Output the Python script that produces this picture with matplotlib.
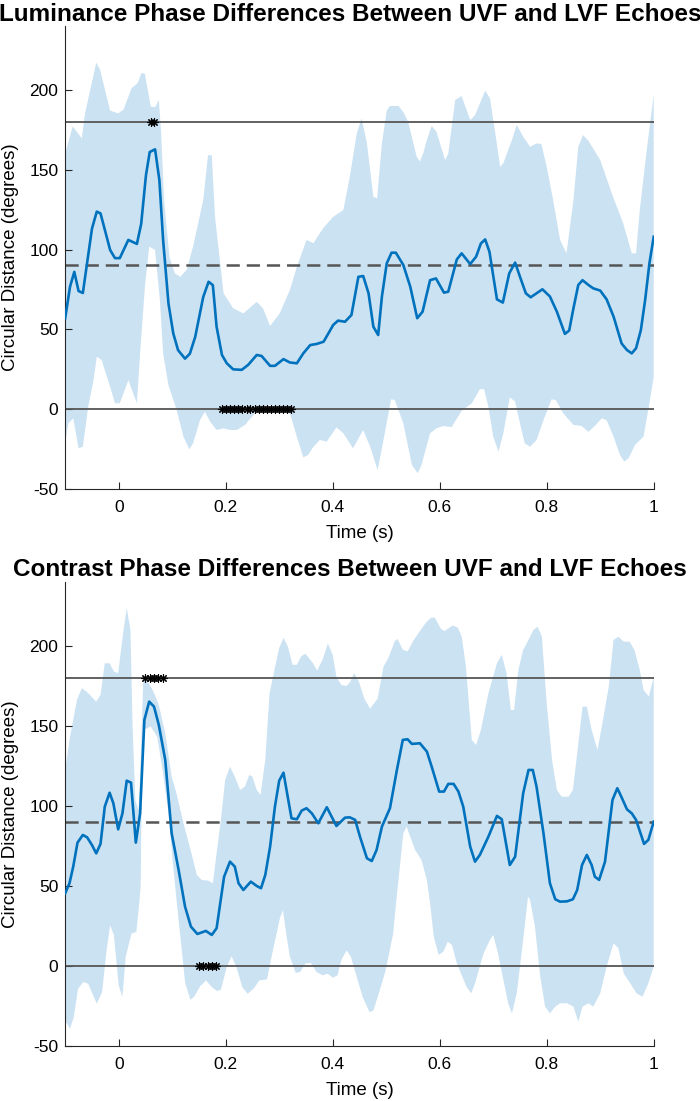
import numpy as np
import matplotlib
matplotlib.use("Agg")
import matplotlib.pyplot as plt

plt.rcParams['font.family'] = ['Liberation Sans', 'DejaVu Sans']
plt.rcParams['axes.unicode_minus'] = False
plt.rcParams['lines.scale_dashes'] = False

# ---------------- Luminance (top panel) ----------------
lum_t = [-0.1, -0.091, -0.083, -0.075, -0.067, -0.05, -0.041, -0.034, -0.016, -0.007,
         0.002, 0.018, 0.034, 0.042, 0.051, 0.058, 0.068, 0.076, 0.083, 0.093,
         0.102, 0.111, 0.124, 0.133, 0.143, 0.158, 0.168, 0.176, 0.183, 0.193,
         0.202, 0.214, 0.23, 0.242, 0.258, 0.267, 0.283, 0.292, 0.308, 0.32,
         0.333, 0.345, 0.358, 0.37, 0.383, 0.401, 0.41, 0.423, 0.435, 0.448,
         0.457, 0.467, 0.476, 0.485, 0.492, 0.501, 0.510, 0.518, 0.532, 0.545,
         0.558, 0.568, 0.582, 0.593, 0.608, 0.616, 0.632, 0.641, 0.657, 0.668,
         0.677, 0.685, 0.693, 0.707, 0.718, 0.730, 0.741, 0.750, 0.761, 0.770,
         0.781, 0.792, 0.806, 0.819, 0.834, 0.842, 0.850, 0.859, 0.867, 0.878,
         0.887, 0.900, 0.912, 0.925, 0.940, 0.950, 0.959, 0.967, 0.976, 0.984,
         0.992, 1.0]
lum_mean = [57, 76.7, 86, 74, 72.8, 113, 123.7, 122.6, 99.7, 94.6,
            94.6, 106, 103.5, 116, 146.6, 161, 162.7, 143.5, 106, 66.3,
            47.5, 37, 31.7, 34.8, 45.3, 70.3, 79.8, 77.7, 51.6, 34,
            28.8, 25, 24.7, 27.8, 34, 33.4, 27.2, 27.2, 31.4, 29.3,
            28.8, 35, 40.2, 40.9, 42.3, 52.8, 55.5, 54.8, 59, 82.9,
            83.4, 72.6, 51.7, 46.5, 70.6, 91.3, 98, 98, 90.3, 76.7,
            57, 61.1, 80.8, 81.9, 73, 73.6, 93.8, 97.6, 90.9, 95.5,
            103.8, 106.3, 98.6, 68.8, 66.8, 85.1, 91.8, 83, 72.6, 70.1,
            72.6, 75.1, 70.6, 61.1, 47.2, 49.3, 63.2, 77.8, 80.8, 77.8,
            75.7, 74.3, 68.8, 58, 41.2, 37.1, 35, 38.2, 49.6, 68.4,
            91.3, 108]

lum_up_t = [-0.1, -0.086, -0.069, -0.063, -0.042, -0.035, -0.016, -0.001, 0.009, 0.024,
            0.035, 0.043, 0.049, 0.060, 0.068, 0.075, 0.079, 0.085, 0.095, 0.105,
            0.115, 0.127, 0.139, 0.158, 0.167, 0.174, 0.180, 0.196, 0.214, 0.233,
            0.258, 0.270, 0.283, 0.301, 0.320, 0.333, 0.351, 0.364, 0.382, 0.401,
            0.420, 0.432, 0.445, 0.454, 0.464, 0.476, 0.483, 0.492, 0.501, 0.507,
            0.523, 0.532, 0.541, 0.557, 0.563, 0.569, 0.576, 0.585, 0.594, 0.610,
            0.616, 0.629, 0.641, 0.657, 0.666, 0.685, 0.694, 0.703, 0.713, 0.719,
            0.735, 0.744, 0.756, 0.769, 0.781, 0.790, 0.800, 0.812, 0.825, 0.837,
            0.850, 0.859, 0.868, 0.878, 0.900, 0.924, 0.943, 0.959, 0.967, 0.974,
            0.987, 1.0]
lum_up = [160, 177, 169.6, 185, 216.9, 212.7, 186.9, 185.2, 187.5, 200.9,
          204, 210.6, 209.8, 189.4, 189, 193.6, 175, 130, 95, 85.1,
          82.9, 87.2, 101.8, 131, 159, 159, 120.5, 72.6, 63.2, 60,
          67.3, 63, 52.1, 60, 74.7, 89.2, 106, 104, 113.3, 120.5,
          124.7, 145.6, 172.7, 182, 166.4, 133, 132, 166.4, 187, 189.8,
          189.8, 186, 180, 158, 155, 160, 168.5, 177.3, 173.7, 156,
          160, 193.6, 196, 181, 184, 199.4, 194.6, 174.8, 151.8, 154,
          168.5, 178, 170.6, 164.3, 166.4, 166, 151.8, 131, 106, 97.6,
          131, 164.3, 171.6, 168, 156, 133, 116.4, 97.6, 97.6, 124.7,
          162.3, 197]

lum_lo_t = [-0.1, -0.094, -0.085, -0.075, -0.067, -0.057, -0.047, -0.041, -0.032, -0.016,
            -0.007, 0.002, 0.009, 0.018, 0.034, 0.040, 0.049, 0.057, 0.068, 0.077,
            0.083, 0.093, 0.108, 0.121, 0.132, 0.139, 0.152, 0.161, 0.171, 0.183,
            0.196, 0.208, 0.221, 0.236, 0.252, 0.264, 0.283, 0.301, 0.320, 0.333,
            0.345, 0.354, 0.364, 0.376, 0.389, 0.407, 0.420, 0.438, 0.457, 0.470,
            0.484, 0.495, 0.509, 0.516, 0.532, 0.548, 0.559, 0.566, 0.582, 0.594,
            0.607, 0.622, 0.641, 0.660, 0.675, 0.683, 0.691, 0.700, 0.710, 0.719,
            0.731, 0.741, 0.750, 0.759, 0.769, 0.781, 0.794, 0.809, 0.817, 0.831,
            0.850, 0.865, 0.878, 0.890, 0.903, 0.912, 0.925, 0.937, 0.945, 0.953,
            0.965, 0.981, 0.990, 1.0]
lum_lo = [-20.3, -8.8, -5.6, -24.4, -23.4, 1.6, 18.3, 32.9, 30.9, 14.1,
          3.8, 3.8, 10, 18.3, 3.8, 35, 76.7, 101.8, 99.7, 68.4,
          35, 15, 0, -17.1, -25, -21.3, -6.8, -1.5, -7.7, -12.9,
          -11.9, -12.9, -12.9, -9.8, -3.5, 1.7, 2.7, 1.7, -2.5, -17.1,
          -30.1, -28.6, -23.4, -19.2, -20.2, -11.3, -15, -24.4, -12.9, -23.4,
          -38, -19.2, 6.2, 5.9, -8.8, -34.8, -40, -34.8, -15, -11.9,
          -10.4, -11.2, -1, 3.8, 12.6, 12.6, 1.7, -17.1, -26.5, -15,
          7.5, 4.8, -8.8, -21.3, -23.4, -19.2, -6.8, 6.2, 5.9, -2.5,
          -9.8, -10.4, -14.1, -10.4, -5.6, -6.8, -17.1, -28.6, -32.7, -30.6,
          -22.3, -17.1, 0, 20]

lum_sig180 = [0.060, 0.066]
lum_sig0 = [0.193, 0.201, 0.208, 0.216, 0.223, 0.231, 0.239, 0.246, 0.254,
            0.262, 0.269, 0.277, 0.284, 0.292, 0.300, 0.307, 0.315, 0.322]

# ---------------- Contrast (bottom panel) ----------------
con_t = [-0.1, -0.092, -0.085, -0.077, -0.067, -0.059, -0.050, -0.042, -0.034, -0.026,
         -0.017, -0.010, -0.001, 0.007, 0.015, 0.023, 0.032, 0.040, 0.048, 0.057,
         0.066, 0.075, 0.087, 0.099, 0.112, 0.124, 0.135, 0.147, 0.163, 0.174,
         0.183, 0.197, 0.208, 0.217, 0.224, 0.233, 0.247, 0.258, 0.266, 0.274,
         0.283, 0.292, 0.300, 0.308, 0.323, 0.333, 0.342, 0.351, 0.361, 0.373,
         0.389, 0.398, 0.407, 0.423, 0.432, 0.442, 0.451, 0.464, 0.473, 0.482,
         0.492, 0.507, 0.520, 0.531, 0.540, 0.548, 0.563, 0.576, 0.585, 0.599,
         0.608, 0.616, 0.626, 0.635, 0.644, 0.657, 0.666, 0.675, 0.691, 0.707,
         0.716, 0.731, 0.741, 0.756, 0.766, 0.774, 0.781, 0.794, 0.806, 0.816,
         0.825, 0.838, 0.849, 0.857, 0.866, 0.875, 0.884, 0.890, 0.898, 0.909,
         0.923, 0.932, 0.940, 0.950, 0.959, 0.967, 0.982, 0.990, 1.0]
con_mean = [45.6, 51.9, 62.3, 77.3, 82.1, 80.6, 75.8, 70.6, 76.5, 99.8,
            108.5, 101.9, 85.6, 95.6, 116, 114.8, 77.3, 95.6, 154, 165.4,
            162.3, 150.8, 129, 83.1, 60.2, 37.3, 24.8, 20.2, 22.1, 19.6,
            23.8, 56, 65.4, 62.3, 51.9, 47.7, 52.9, 50.2, 48.8, 57.1,
            74.8, 99.8, 116, 121, 92.5, 91.9, 97.3, 98.8, 95.6, 89.4,
            99.4, 93.5, 87.7, 92.9, 93.1, 91.5, 81, 67.5, 65.8, 72.7,
            87.3, 98.8, 122.7, 141.5, 141.9, 139, 139.4, 134.2, 124.8, 109.2,
            109.2, 114, 114, 109.2, 99.8, 74.8, 65.4, 69.6, 81, 94,
            91.9, 63.3, 68.5, 108.1, 122.7, 122.7, 112.3, 83.1, 51.9, 41.9,
            40.4, 40.6, 41.9, 47.7, 63.3, 69.6, 63.3, 56, 54, 65.4,
            104, 111.3, 105.6, 98.1, 95.6, 91.5, 76.5, 79, 90.4]

con_up_t = [-0.1, -0.091, -0.078, -0.069, -0.060, -0.042, -0.034, -0.026, -0.017, -0.009,
            -0.001, 0.009, 0.015, 0.022, 0.026, 0.031, 0.037, 0.040, 0.046, 0.054,
            0.065, 0.075, 0.087, 0.099, 0.108, 0.121, 0.136, 0.146, 0.155, 0.168,
            0.176, 0.183, 0.191, 0.199, 0.208, 0.217, 0.227, 0.236, 0.244, 0.250,
            0.258, 0.265, 0.274, 0.282, 0.291, 0.300, 0.308, 0.316, 0.325, 0.333,
            0.341, 0.349, 0.363, 0.371, 0.381, 0.391, 0.400, 0.407, 0.416, 0.426,
            0.433, 0.440, 0.449, 0.459, 0.470, 0.484, 0.495, 0.504, 0.516, 0.521,
            0.531, 0.540, 0.552, 0.574, 0.584, 0.591, 0.602, 0.609, 0.624, 0.634,
            0.641, 0.649, 0.655, 0.660, 0.668, 0.677, 0.691, 0.707, 0.716, 0.725,
            0.733, 0.739, 0.747, 0.756, 0.766, 0.775, 0.783, 0.791, 0.800, 0.810,
            0.819, 0.828, 0.841, 0.849, 0.857, 0.867, 0.875, 0.884, 0.895, 0.903,
            0.916, 0.925, 0.934, 0.944, 0.955, 0.964, 0.974, 0.981, 0.991, 1.0]
con_up = [122.7, 143.5, 166.5, 173.8, 171.7, 165.4, 169.6, 189.4, 189.4, 184.2,
          183.1, 210.2, 223.8, 210.2, 149.8, 104, 97.7, 118.5, 179, 178,
          171.7, 163.3, 145.6, 118.5, 108.1, 89.4, 70.6, 57.1, 54, 53.5,
          51.9, 70.6, 91.5, 116.5, 124.8, 118.5, 110.2, 112.3, 119.6, 118.5,
          110.2, 107.1, 129, 170.6, 185, 199, 205.3, 200, 188.4, 188.4,
          193.7, 195.4, 189.5, 184.8, 191.6, 201.7, 194.7, 181, 175.8, 175.2,
          177.9, 183.2, 177.9, 167.4, 161, 167.4, 187.4, 192.6, 203.2, 204.6,
          197.9, 196.8, 204.2, 214.7, 217.9, 217.9, 211, 209.5, 213, 211.6,
          206.3, 187.4, 162.3, 141.5, 138.3, 147.7, 170.6, 189.4, 194.6, 183.1,
          160.2, 160.2, 185.2, 197.7, 204, 210.2, 212.3, 206, 164.4, 129,
          110.2, 106, 106, 110.2, 133.1, 162.3, 162.3, 147.7, 135.2, 149.8,
          174.8, 204, 206, 202.9, 202.9, 197.7, 185.2, 172.7, 168.5, 181]

con_lo_t = [-0.1, -0.091, -0.084, -0.076, -0.066, -0.057, -0.041, -0.031, -0.023, -0.016,
            -0.009, 0.0, 0.007, 0.013, 0.024, 0.033, 0.039, 0.041, 0.043, 0.046,
            0.060, 0.072, 0.083, 0.093, 0.102, 0.110, 0.118, 0.124, 0.134, 0.141,
            0.152, 0.163, 0.174, 0.184, 0.191, 0.202, 0.211, 0.220, 0.231, 0.241,
            0.252, 0.263, 0.277, 0.291, 0.302, 0.307, 0.313, 0.320, 0.331, 0.339,
            0.349, 0.359, 0.370, 0.381, 0.391, 0.400, 0.409, 0.416, 0.426, 0.434,
            0.445, 0.456, 0.469, 0.476, 0.486, 0.499, 0.513, 0.519, 0.532, 0.538,
            0.545, 0.554, 0.566, 0.576, 0.582, 0.589, 0.598, 0.607, 0.615, 0.623,
            0.632, 0.641, 0.650, 0.659, 0.666, 0.682, 0.694, 0.700, 0.709, 0.719,
            0.728, 0.735, 0.744, 0.756, 0.765, 0.769, 0.778, 0.788, 0.797, 0.806,
            0.816, 0.825, 0.838, 0.850, 0.859, 0.867, 0.878, 0.887, 0.900, 0.912,
            0.925, 0.934, 0.944, 0.956, 0.968, 0.979, 0.990, 1.0]
con_lo = [-33.9, -39, -31.8, -14, -9.8, -10.9, -23.4, -16.1, 9, 25.7,
          19.5, -11.9, -19.2, 5.9, 20.5, 21.5, 41.4, 49.8, 108, 147.7,
          149.8, 143.5, 120.6, 95.6, 62, 35, 10, -10, -20.9, -19,
          -12.6, -8.8, -13, -15.5, -14.6, -0.4, 6.3, -0.4, -13, -17.2,
          -14, -8.8, -8.2, 14.2, 31, 35, 20.5, 5.9, -4.2, -3.6,
          1.7, 2.1, -3.6, -5.6, -4.6, -7.1, -5.6, 3.8, 10, 5.9,
          -6.7, -19.2, -28.7, -27.6, -17.2, -2.5, 20.5, 41.4, 83, 87.3,
          81, 72.7, 66.5, 54, 39.4, 18.5, 7.1, 9.2, 15.4, 13.3,
          1.9, -5.4, -12.7, -16.9, -10.6, 8.1, 16.5, 19.6, 8.1, -8.5,
          -23.1, -29.4, -16.9, 16.5, 43.5, 41.5, 24.8, -6.5, -25.2, -29.4,
          -25.2, -23.1, -23.1, -25.2, -34.6, -25.2, -23.1, -25.2, -16.9, -0.2,
          14.4, 11.3, -4.4, -10.6, -16.9, -19, -10.6, -0.2]

con_sig180 = [0.050, 0.058, 0.066, 0.074, 0.082]
con_sig0 = [0.150, 0.158, 0.166, 0.174, 0.182]

titles = ["Luminance Phase Differences Between UVF and LVF Echoes",
          "Contrast Phase Differences Between UVF and LVF Echoes"]
x_ticks = [0, 0.2, 0.4, 0.6, 0.8, 1]
x_ticklabels = ["0", "0.2", "0.4", "0.6", "0.8", "1"]
y_ticks = [-50, 0, 50, 100, 150, 200]

LINE_BLUE = "#0072BD"
BAND_BLUE = "#cbe2f3"
REF_GREY = "#555555"
AX_COL = "#262626"

W, H = 700, 1101
fig = plt.figure(figsize=(W / 100, H / 100), dpi=100)

# axes boxes in pixels: (left, top, right, bottom)
boxes = [(65.2, 25.8, 653.7, 489.2), (65.2, 582.3, 653.7, 1046.3)]
title_base = [21, 576]

panels = [
    (lum_t, lum_mean, lum_up_t, lum_up, lum_lo_t, lum_lo, lum_sig180, lum_sig0),
    (con_t, con_mean, con_up_t, con_up, con_lo_t, con_lo, con_sig180, con_sig0),
]

for i, (t, m, ut, up, lt, lo, s180, s0) in enumerate(panels):
    l, tp, r, b = boxes[i]
    ax = fig.add_axes([l / W, 1 - b / H, (r - l) / W, (b - tp) / H])

    # confidence band as a polygon: upper edge forward, lower edge back
    px = np.concatenate([ut, lt[::-1]])
    py = np.concatenate([up, lo[::-1]])
    ax.fill(px, py, color=BAND_BLUE, lw=0, zorder=1)

    ax.axhline(0, color=REF_GREY, lw=1.3, zorder=2)
    ax.axhline(180, color=REF_GREY, lw=1.3, zorder=2)
    ax.axhline(90, color=REF_GREY, lw=1.8, dashes=(9.5, 5), zorder=2)

    ax.plot(t, m, color=LINE_BLUE, lw=1.9, zorder=3)

    ax.plot(s180, [180] * len(s180), ls='none', marker=(8, 2, 0), ms=6,
            mec='black', mew=0.8, zorder=4)
    ax.plot(s0, [0] * len(s0), ls='none', marker=(8, 2, 0), ms=6,
            mec='black', mew=0.8, zorder=4)

    ax.set_xlim(-0.1, 1.0)
    ax.set_ylim(-50, 240)
    ax.set_xticks(x_ticks)
    ax.set_xticklabels(x_ticklabels)
    ax.set_yticks(y_ticks)
    ax.set_yticklabels([str(v) for v in y_ticks])

    for side in ['top', 'right']:
        ax.spines[side].set_visible(False)
    for side in ['left', 'bottom']:
        ax.spines[side].set_color(AX_COL)
        ax.spines[side].set_linewidth(0.8)
    ax.tick_params(direction='in', length=5, width=0.8, color=AX_COL,
                   labelsize=12.5, labelcolor='black')
    ax.tick_params(axis='x', pad=8)
    ax.tick_params(axis='y', pad=5)

    ax.set_xlabel("Time (s)", fontsize=13.5, va='center')
    ax.xaxis.set_label_coords(0.5, -44 / (b - tp))
    ax.set_ylabel("Circular Distance (degrees)", fontsize=13.5, va='center')
    ax.yaxis.set_label_coords((11 - l) / (r - l), 0.5)

    fig.text(0.5, 1 - title_base[i] / H, titles[i], ha='center', va='baseline',
             fontsize=17.5, fontweight='bold')

fig.savefig("out.png", dpi=100)
